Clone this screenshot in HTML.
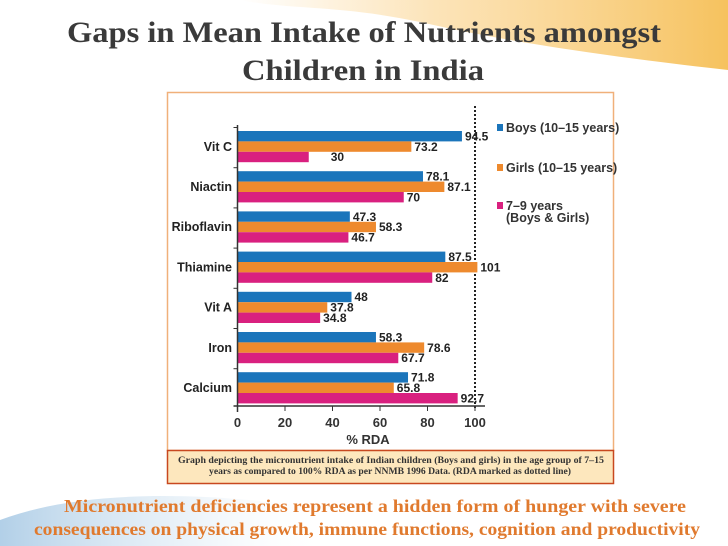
<!DOCTYPE html>
<html><head><meta charset="utf-8"><style>
html,body{margin:0;padding:0;background:#fff;}
svg{display:block;font-family:"Liberation Sans",sans-serif;}
</style></head><body>
<svg id="pg" width="728" height="546" viewBox="0 0 728 546" xmlns="http://www.w3.org/2000/svg">
<defs>
<linearGradient id="og" x1="0" x2="1" y1="0" y2="0"><stop offset="0" stop-color="#fbd89a" stop-opacity="0"/><stop offset="0.4" stop-color="#fbd89a" stop-opacity="0.7"/><stop offset="1" stop-color="#f6c25e"/></linearGradient>
<linearGradient id="bg" x1="0" x2="1" y1="0" y2="0"><stop offset="0" stop-color="#7fb0d8"/><stop offset="0.6" stop-color="#cfe2f1" stop-opacity="0.6"/><stop offset="1" stop-color="#fff" stop-opacity="0"/></linearGradient>
</defs>
<path d="M240 0 L728 0 L728 70 C640 60 520 45 420 22 C340 5 290 10 240 0Z" fill="url(#og)"/>
<path d="M0 520 C80 490 200 490 330 510 L330 546 L0 546Z" fill="url(#bg)" opacity="0.6"/>
<g font-family="Liberation Serif,serif" font-weight="bold" fill="#3a3a3a" font-size="30">
<text x="67" y="42" textLength="594" lengthAdjust="spacingAndGlyphs">Gaps in Mean Intake of Nutrients amongst</text>
<text x="242" y="80" textLength="242" lengthAdjust="spacingAndGlyphs">Children in India</text>
</g>
<rect x="167.5" y="92.5" width="446" height="358" fill="#fff" stroke="#f0b07a" stroke-width="1.5"/>
<g id="chart"></g>
<rect x="167.5" y="450.5" width="446" height="33" fill="#fde7bd" stroke="#c8481f" stroke-width="1.5"/>
<g font-family="Liberation Serif,serif" font-weight="bold" font-size="9" fill="#333">
<text x="178" y="463" textLength="426" lengthAdjust="spacingAndGlyphs">Graph depicting the micronutrient intake of Indian children (Boys and girls) in the age group of 7–15</text>
<text x="209" y="474" textLength="362" lengthAdjust="spacingAndGlyphs">years as compared to 100% RDA as per NNMB 1996 Data. (RDA marked as dotted line)</text>
</g>
<g font-family="Liberation Serif,serif" font-weight="bold" font-size="17.5" fill="#e07a2e">
<text x="64" y="512" textLength="622" lengthAdjust="spacingAndGlyphs">Micronutrient deficiencies represent a hidden form of hunger with severe</text>
<text x="34" y="535" textLength="666" lengthAdjust="spacingAndGlyphs">consequences on physical growth, immune functions, cognition and productivity</text>
</g>
</svg>
<script>
const categories=["Vit C","Niactin","Riboflavin","Thiamine","Vit A","Iron","Calcium"];
const boys=[94.5,78.1,47.3,87.5,48,58.3,71.8];
const girls=[73.2,87.1,58.3,101,37.8,78.6,65.8];
const young=[30,70,46.7,82,34.8,67.7,92.7];
const seriesNames=["Boys (10–15 years)","Girls (10–15 years)","7–9 years"];
const xTicks=[0,20,40,60,80,100];
const rdaLine=100;

const NS="http://www.w3.org/2000/svg";
const g=document.getElementById('chart');
const x0=237.5,x100=475;
function xs(v){return x0+(x100-x0)*v/100;}
const gTop=131,gStep=40.2,bh=10.4;
function yb(i,s){return gTop+i*gStep+s*bh;}
function mk(t,a,txt){const e=document.createElementNS(NS,t);for(const k in a)e.setAttribute(k,a[k]);if(txt!==undefined)e.textContent=txt;g.appendChild(e);return e;}
const colors=["#1b75bb","#ee8a2e","#d9207f"];
const series=[boys,girls,young];
const FF='Liberation Sans Narrow,Liberation Sans,sans-serif';
let dl=mk('line',{x1:xs(rdaLine),x2:xs(rdaLine),y1:106,y2:408,stroke:'#222','stroke-width':2,'stroke-dasharray':'2,2'});


series.forEach((arr,s)=>{arr.forEach((v,i)=>{
  const r=mk('rect',{x:xs(0),y:yb(i,s),width:xs(v)-xs(0),height:bh,fill:colors[s]});
  
  
  let lx=xs(v)+3;
  let tx=(s===2&&i===0)?xs(v)+22:lx;
  const t=mk('text',{x:tx,y:yb(i,s)+bh-1,'font-size':12,'font-weight':'bold',fill:'#222','font-family':FF},String(v));
  
  
});});
categories.forEach((c,i)=>{
  const t=mk('text',{x:232,y:yb(i,1)+bh-1,'font-size':12.5,'font-weight':'bold',fill:'#222','text-anchor':'end','font-family':FF},c);
  
  
  const tk=mk('line',{x1:x0-4,x2:x0,y1:yb(i,0)-3.5,y2:yb(i,0)-3.5,stroke:'#333','stroke-width':1});
  
  
});
let ya=mk('line',{x1:x0,x2:x0,y1:125,y2:412,stroke:'#333','stroke-width':1.5});


let xa=mk('line',{x1:x0-4,x2:485,y1:406,y2:406,stroke:'#333','stroke-width':1.5});


xTicks.forEach(v=>{
  const l=mk('line',{x1:xs(v),x2:xs(v),y1:406,y2:411,stroke:'#333'});
  
  
  const t=mk('text',{x:xs(v),y:427,'font-size':13,'font-weight':'bold',fill:'#333','text-anchor':'middle','font-family':FF},String(v));
  
  
});
let xt=mk('text',{x:368,y:444,'font-size':13,'font-weight':'bold',fill:'#333','text-anchor':'middle','font-family':FF},'% RDA');


const legY=[128,168,206];
seriesNames.forEach((n,s)=>{
  const r=mk('rect',{x:497,y:legY[s]-4,width:6,height:7,fill:colors[s]});
  
  
  const t=mk('text',{x:506,y:legY[s]+4,'font-size':12.5,'font-weight':'bold',fill:'#333','font-family':FF},n);
  
  
});
const t2=mk('text',{x:506,y:222,'font-size':12.5,'font-weight':'bold',fill:'#333','font-family':FF},'(Boys & Girls)');


</script>
</body></html>
